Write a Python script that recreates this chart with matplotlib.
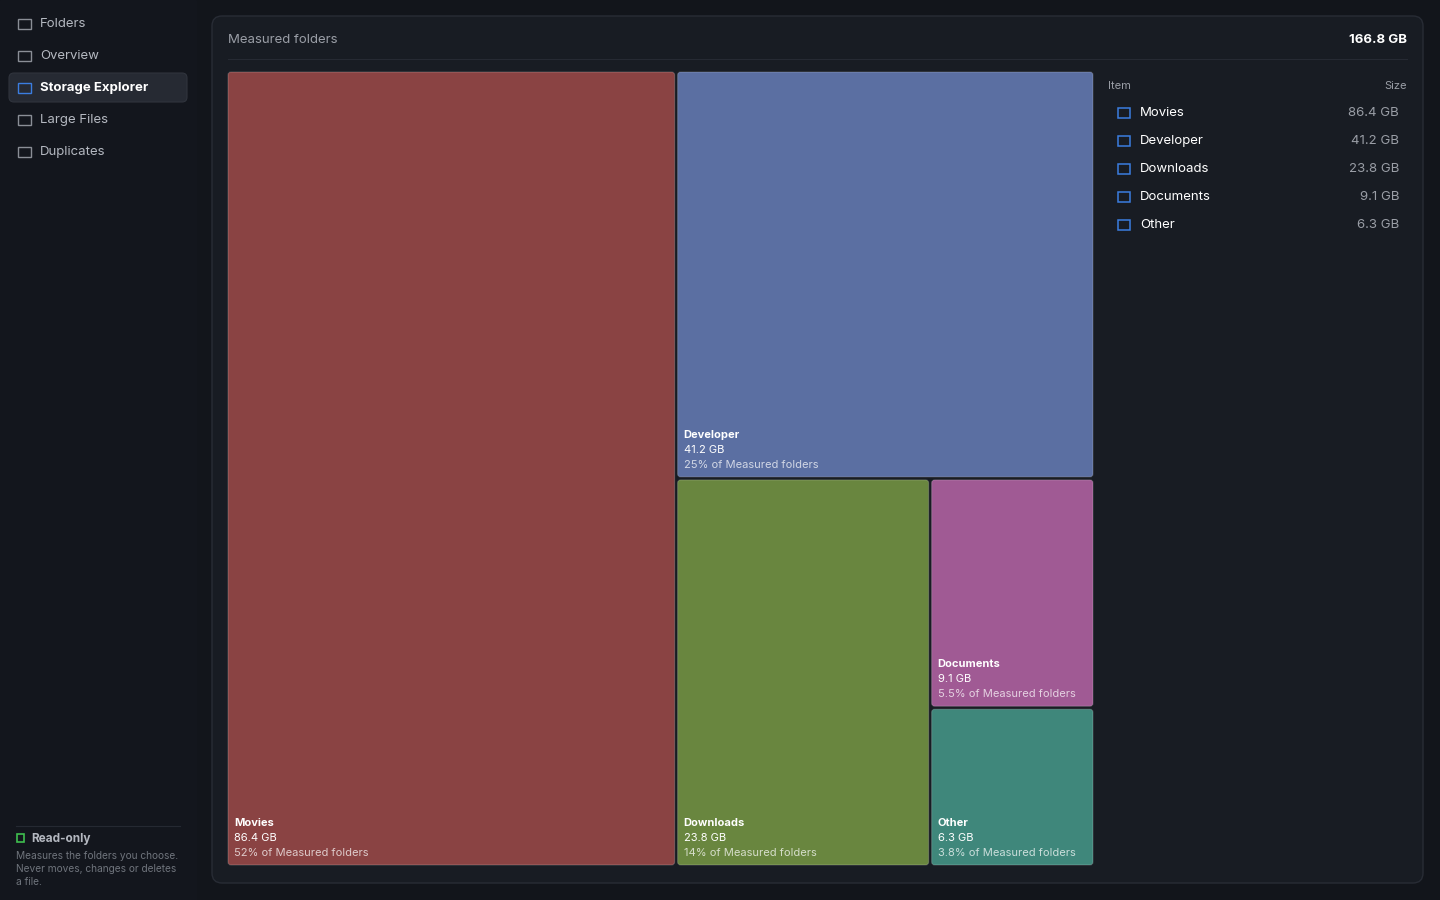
import matplotlib
matplotlib.use("Agg")
import matplotlib.pyplot as plt
from matplotlib.patches import FancyBboxPatch, Rectangle

names = ["Movies", "Developer", "Downloads", "Documents", "Other"]
sizes = [86.4, 41.2, 23.8, 9.1, 6.3]
pcts = ["52%", "25%", "14%", "5.5%", "3.8%"]
colors = ["#8a4343", "#5b6fa2", "#69863f", "#a05a94", "#3f877b"]
nav = ["Folders", "Overview", "Storage Explorer", "Large Files", "Duplicates"]
total = 166.8

plt.rcParams['font.family'] = ['Inter', 'DejaVu Sans']
fig = plt.figure(figsize=(14.4, 9), dpi=100, facecolor="#12151b")
ax = fig.add_axes([0, 0, 1, 1])
ax.set_xlim(0, 1440); ax.set_ylim(900, 0); ax.axis("off")

# sidebar
ax.add_patch(Rectangle((0, 0), 196, 900, color="#13161d", zorder=0))
for i, n in enumerate(nav):
    y = 24 + 32 * i
    if i == 2:
        ax.add_patch(FancyBboxPatch((9, y - 15), 178, 29, boxstyle="round,pad=0,rounding_size=5",
                                    fc="#262a33", ec="#30343d", lw=0.8))
    ax.text(40, y, n, color="#ffffff" if i == 2 else "#b4b8c0", fontsize=9.5,
            weight="bold" if i == 2 else "normal", va="center")
    ax.add_patch(Rectangle((18, y - 5), 13, 10, fill=False,
                           ec="#3b7de0" if i == 2 else "#8a8e96", lw=1))
ax.plot([16, 180], [826, 826], color="#252932", lw=0.8)
ax.add_patch(Rectangle((17, 834), 7, 8, fill=False, ec="#3fbf4f", lw=1.2))
ax.text(31, 839, "Read-only", color="#b4b8c0", fontsize=8.5, weight="bold", va="center")
for j, t in enumerate(["Measures the folders you choose.", "Never moves, changes or deletes", "a file."]):
    ax.text(16, 856 + 13 * j, t, color="#6f747c", fontsize=7.3, va="center")

# panel
ax.add_patch(FancyBboxPatch((212, 16), 1211, 867, boxstyle="round,pad=0,rounding_size=10",
                            fc="#181c23", ec="#282c35", lw=1))
ax.text(228, 40, "Measured folders", color="#9a9ea6", fontsize=9.5, va="center")
ax.text(1407, 40, f"{total} GB", color="#ffffff", fontsize=9.5, weight="bold", va="center", ha="right")
ax.plot([228, 1407], [59, 59], color="#262a33", lw=0.8)

# treemap (alternating slice layout)
gap = 3
x0, y0, w, h = 228, 72, 865 + gap, 793 + gap
rects = []
remaining = sum(sizes)
horiz = True
for i, s in enumerate(sizes):
    if i == len(sizes) - 1:
        rects.append((x0, y0, w, h))
        break
    frac = s / remaining
    if horiz:
        rw = w * frac
        rects.append((x0, y0, rw, h)); x0 += rw; w -= rw
    else:
        rh = h * frac
        rects.append((x0, y0, w, rh)); y0 += rh; h -= rh
    remaining -= s
    horiz = not horiz

for (rx, ry, rw, rh), n, s, p, c in zip(rects, names, sizes, pcts, colors):
    ax.add_patch(FancyBboxPatch((rx, ry), rw - gap, rh - gap, boxstyle="round,pad=0,rounding_size=3",
                                fc=c, ec=(1, 1, 1, 0.18), lw=0.8))
    by = ry + rh - gap
    ax.text(rx + 6, by - 42, n, color="white", fontsize=8, weight="bold", va="center")
    ax.text(rx + 6, by - 27, f"{s} GB", color="white", fontsize=8, va="center")
    ax.text(rx + 6, by - 12, f"{p} of Measured folders", color=(1, 1, 1, 0.72), fontsize=8, va="center")

# table
ax.text(1108, 86, "Item", color="#9a9ea6", fontsize=8, va="center")
ax.text(1407, 86, "Size", color="#9a9ea6", fontsize=8, va="center", ha="right")
for i, (n, s) in enumerate(zip(names, sizes)):
    y = 113 + 28 * i
    ax.add_patch(Rectangle((1118, y - 5), 12, 10, fill=False, ec="#3b7de0", lw=1.1))
    ax.text(1140, y, n, color="#ffffff", fontsize=9.5, va="center")
    ax.text(1399, y, f"{s} GB", color="#9a9ea6", fontsize=9.5, va="center", ha="right")

fig.savefig("out.png", dpi=100, facecolor=fig.get_facecolor())
